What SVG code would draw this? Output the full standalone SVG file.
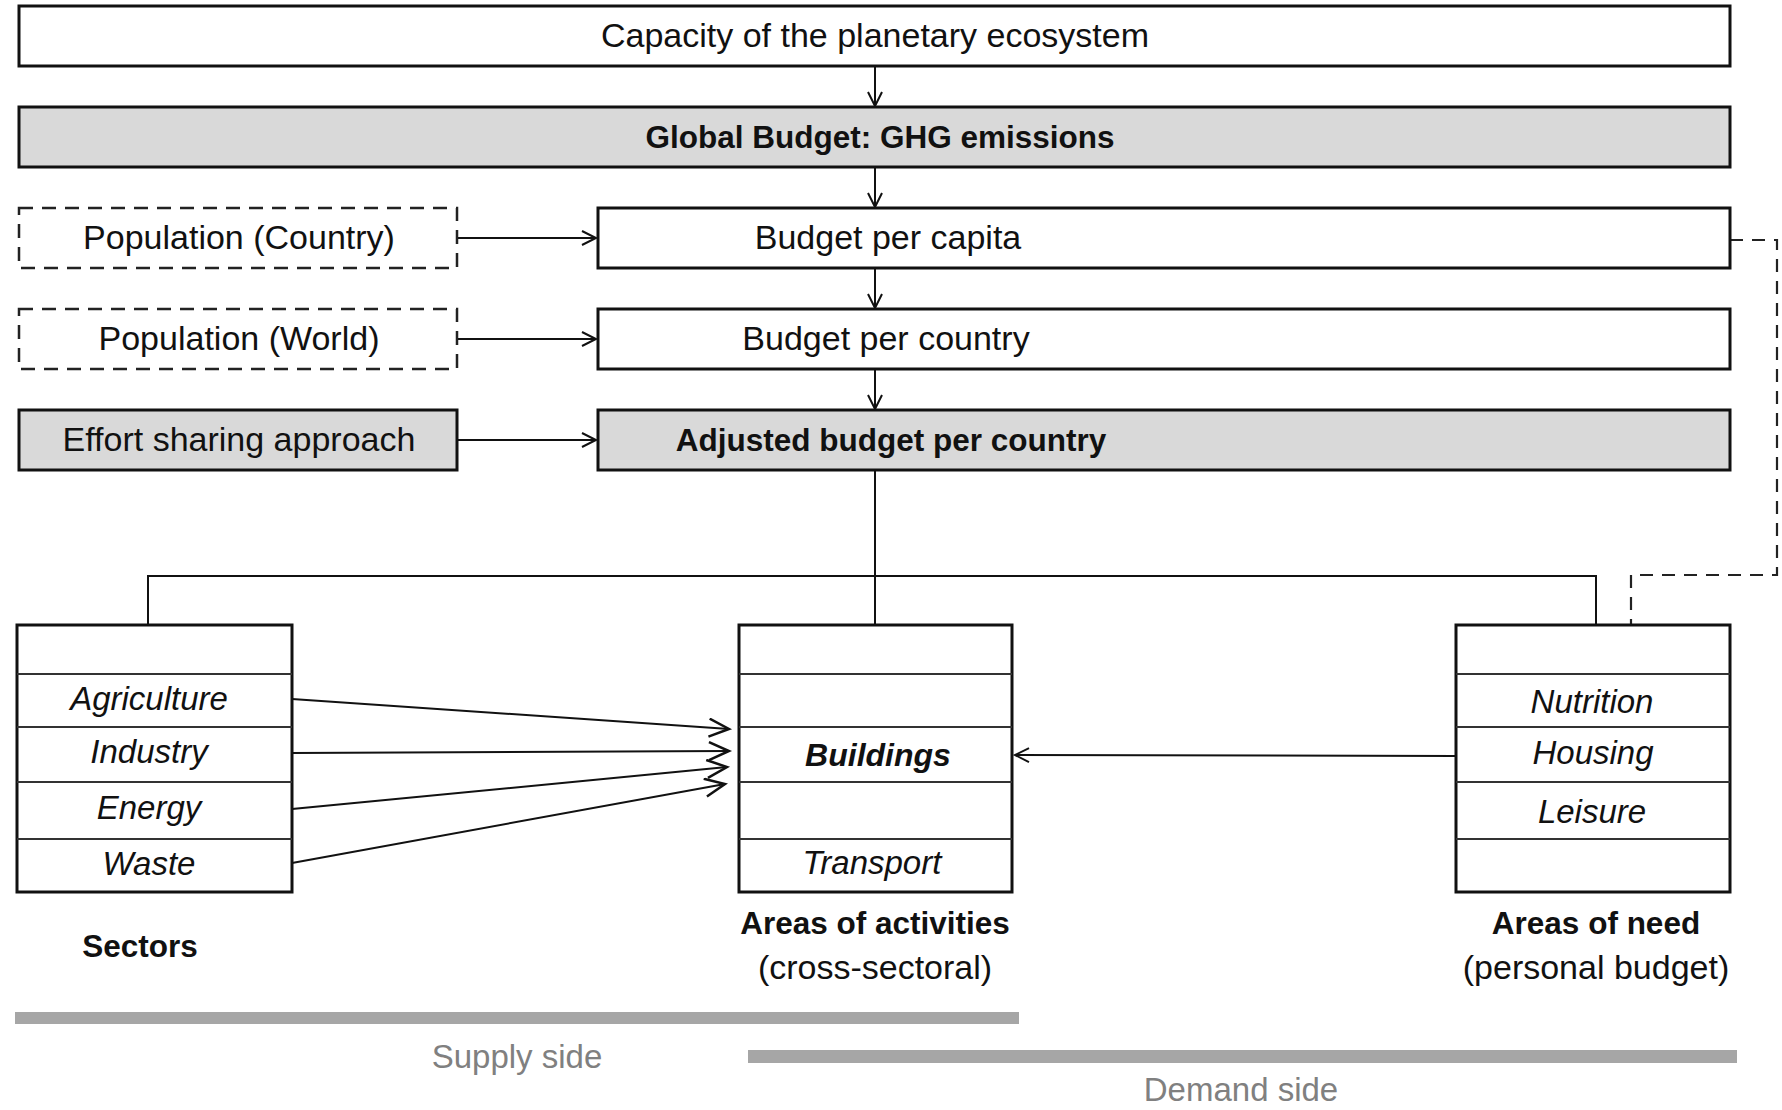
<svg xmlns="http://www.w3.org/2000/svg" width="1782" height="1110" viewBox="0 0 1782 1110">
<defs>
<style>
.box{fill:#fff;stroke:#111;stroke-width:3}
.gray{fill:#d9d9d9;stroke:#111;stroke-width:3}
.dash{fill:#fff;stroke:#222;stroke-width:2.5;stroke-dasharray:14 9}
.sep{stroke:#333;stroke-width:2}
.ln{fill:none;stroke:#111;stroke-width:2}
.dln{fill:none;stroke:#222;stroke-width:2.2;stroke-dasharray:13 9}
text{font-family:"Liberation Sans",Arial,sans-serif;fill:#111;text-anchor:middle}
.t{font-size:34px}
.b{font-size:31.5px;font-weight:bold}
.i{font-size:33px;font-style:italic}
.bi{font-size:32px;font-style:italic;font-weight:bold}
.side{font-size:33px;fill:#808080}
.bar{fill:#a6a6a6}
</style>
<marker id="ah" markerUnits="userSpaceOnUse" markerWidth="20" markerHeight="20" refX="15" refY="8" orient="auto">
<path d="M1,1 L15,8 L1,15" fill="none" stroke="#111" stroke-width="2"/>
</marker>
<marker id="ahL" markerUnits="userSpaceOnUse" markerWidth="26" markerHeight="24" refX="21" refY="10" orient="auto">
<path d="M1,1 L21,10 L1,19" fill="none" stroke="#111" stroke-width="2.5"/>
</marker>
</defs>

<g id="connectors">
<line class="ln" x1="875" y1="66" x2="875" y2="106" marker-end="url(#ah)"/>
<line class="ln" x1="875" y1="167" x2="875" y2="207" marker-end="url(#ah)"/>
<line class="ln" x1="875" y1="268" x2="875" y2="308" marker-end="url(#ah)"/>
<line class="ln" x1="875" y1="369" x2="875" y2="409" marker-end="url(#ah)"/>
<line class="ln" x1="457" y1="238" x2="596" y2="238" marker-end="url(#ah)"/>
<line class="ln" x1="457" y1="339" x2="596" y2="339" marker-end="url(#ah)"/>
<line class="ln" x1="457" y1="440" x2="596" y2="440" marker-end="url(#ah)"/>
<path class="ln" d="M875,470 V625"/>
<path class="ln" d="M148,625 V576 H1596 V625"/>
<path class="dln" d="M1730,240 H1777 V575 H1631 V625"/>
<line class="ln" x1="292" y1="699" x2="729" y2="729" marker-end="url(#ahL)"/>
<line class="ln" x1="292" y1="753" x2="729" y2="751" marker-end="url(#ahL)"/>
<line class="ln" x1="292" y1="809" x2="727" y2="767" marker-end="url(#ahL)"/>
<line class="ln" x1="292" y1="863" x2="725" y2="784" marker-end="url(#ahL)"/>
<line class="ln" x1="1456" y1="756" x2="1015" y2="755" marker-end="url(#ah)"/>
</g>

<g id="capacity">
<rect class="box" x="19" y="6" width="1711" height="60"/>
<text class="t" x="875" y="47">Capacity of the planetary ecosystem</text>
</g>
<g id="global-budget">
<rect class="gray" x="19" y="107" width="1711" height="60"/>
<text class="b" x="880" y="148">Global Budget: GHG emissions</text>
</g>
<g id="budget-per-capita">
<rect class="box" x="598" y="208" width="1132" height="60"/>
<text class="t" x="888" y="249">Budget per capita</text>
</g>
<g id="population-country">
<rect class="dash" x="19" y="208" width="438" height="60"/>
<text class="t" x="239" y="249">Population (Country)</text>
</g>
<g id="budget-per-country">
<rect class="box" x="598" y="309" width="1132" height="60"/>
<text class="t" x="886" y="350">Budget per country</text>
</g>
<g id="population-world">
<rect class="dash" x="19" y="309" width="438" height="60"/>
<text class="t" x="239" y="350">Population (World)</text>
</g>
<g id="adjusted-budget">
<rect class="gray" x="598" y="410" width="1132" height="60"/>
<text class="b" x="891" y="451">Adjusted budget per country</text>
</g>
<g id="effort-sharing">
<rect class="gray" x="19" y="410" width="438" height="60"/>
<text class="t" x="239" y="451">Effort sharing approach</text>
</g>

<g id="sectors">
<rect class="box" x="17" y="625" width="275" height="267"/>
<line class="sep" x1="17" y1="674" x2="292" y2="674"/>
<line class="sep" x1="17" y1="727" x2="292" y2="727"/>
<line class="sep" x1="17" y1="782" x2="292" y2="782"/>
<line class="sep" x1="17" y1="839" x2="292" y2="839"/>
<text class="i" x="149" y="710">Agriculture</text>
<text class="i" x="149" y="763">Industry</text>
<text class="i" x="149" y="819">Energy</text>
<text class="i" x="149" y="875">Waste</text>
<text class="b" x="140" y="957">Sectors</text>
</g>

<g id="areas-of-activities">
<rect class="box" x="739" y="625" width="273" height="267"/>
<line class="sep" x1="739" y1="674" x2="1012" y2="674"/>
<line class="sep" x1="739" y1="727" x2="1012" y2="727"/>
<line class="sep" x1="739" y1="782" x2="1012" y2="782"/>
<line class="sep" x1="739" y1="839" x2="1012" y2="839"/>
<text class="bi" x="878" y="766">Buildings</text>
<text class="i" x="872" y="874">Transport</text>
<text class="b" x="875" y="934">Areas of activities</text>
<text class="t" x="875" y="979">(cross-sectoral)</text>
</g>

<g id="areas-of-need">
<rect class="box" x="1456" y="625" width="274" height="267"/>
<line class="sep" x1="1456" y1="674" x2="1730" y2="674"/>
<line class="sep" x1="1456" y1="727" x2="1730" y2="727"/>
<line class="sep" x1="1456" y1="782" x2="1730" y2="782"/>
<line class="sep" x1="1456" y1="839" x2="1730" y2="839"/>
<text class="i" x="1592" y="713">Nutrition</text>
<text class="i" x="1593" y="764">Housing</text>
<text class="i" x="1592" y="823">Leisure</text>
<text class="b" x="1596" y="934">Areas of need</text>
<text class="t" x="1596" y="979">(personal budget)</text>
</g>

<g id="supply-side">
<rect class="bar" x="15" y="1012" width="1004" height="12"/>
<text class="side" x="517" y="1068">Supply side</text>
</g>
<g id="demand-side">
<rect class="bar" x="748" y="1050" width="989" height="13"/>
<text class="side" x="1241" y="1101">Demand side</text>
</g>
</svg>
